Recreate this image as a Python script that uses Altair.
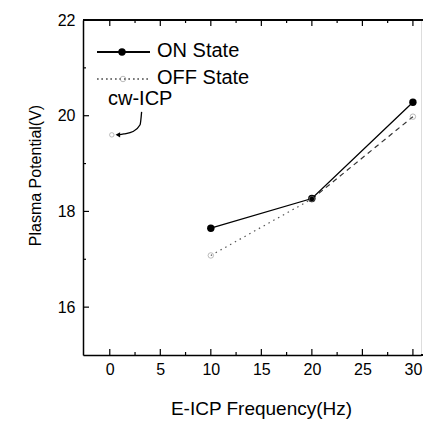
import altair as alt
import pandas as pd

# ---- data ----
FREQ = [10, 20, 30]
ON_STATE = [17.65, 18.27, 20.28]
OFF_STATE = [17.08, 18.26, 19.98]
CW_X = [0.2]
CW_Y = [19.6]
X_TICKS = [0, 5, 10, 15, 20, 25, 30]
X_MINOR = [2.5, 7.5, 12.5, 17.5, 22.5, 27.5]
Y_TICKS = [16, 18, 20, 22]
Y_MINOR = [17, 19, 21]
# annotation arrow (cw-ICP) path in data units
ARROW_X = [3.15, 3.0, 2.3, 1.4, 0.8]
ARROW_Y = [20.08, 19.81, 19.67, 19.62, 19.60]

W, H = 338, 335
FONT = "Liberation Sans"

xs = alt.Scale(domain=[-2.65, 30.8], nice=False, zero=False)
ys = alt.Scale(domain=[15, 22], nice=False, zero=False)

xaxis = alt.Axis(values=X_TICKS, title="E-ICP Frequency(Hz)", tickSize=0, labelPadding=6,
                 labelFontSize=16, titleFontSize=19, grid=False, domainColor="black",
                 domainWidth=1.5, titleX=178, titleY=59, titleBaseline="alphabetic",
                 titleAlign="center", titleFontWeight="normal", labelFont=FONT, titleFont=FONT,
                 labelColor="black", titleColor="black")
yaxis = alt.Axis(values=Y_TICKS, title="Plasma Potential(V)", tickSize=0, labelPadding=8,
                 labelFontSize=16, titleFontSize=16, grid=False, domainColor="black",
                 domainWidth=1.5, titleX=-43, titleY=155, titleAngle=270,
                 titleBaseline="alphabetic", titleAlign="center", titleFontWeight="normal",
                 labelFont=FONT, titleFont=FONT, labelColor="black", titleColor="black")

X = alt.X("x:Q", scale=xs, axis=xaxis)
Y = alt.Y("y:Q", scale=ys, axis=yaxis)

on_df = pd.DataFrame({"x": FREQ, "y": ON_STATE})
off_df = pd.DataFrame({"x": FREQ, "y": OFF_STATE})
seg_df = pd.DataFrame({
    "x": FREQ[0:2] + FREQ[1:3],
    "y": OFF_STATE[0:2] + OFF_STATE[1:3],
    "seg": ["a", "a", "b", "b"],
})
cw_df = pd.DataFrame({"x": CW_X, "y": CW_Y})
arrow_df = pd.DataFrame({"x": ARROW_X, "y": ARROW_Y, "o": list(range(len(ARROW_X)))})

on_line = alt.Chart(on_df).mark_line(color="black", strokeWidth=1.3).encode(x=X, y=Y)
on_pts = alt.Chart(on_df).mark_point(filled=True, color="black", size=55, opacity=1).encode(x=X, y=Y)

off_a = alt.Chart(seg_df[seg_df.seg == "a"]).mark_line(
    color="#555", strokeWidth=1.2, strokeDash=[1.5, 4]).encode(x=X, y=Y)
off_b = alt.Chart(seg_df[seg_df.seg == "b"]).mark_line(
    color="#333", strokeWidth=1.2, strokeDash=[5, 4]).encode(x=X, y=Y)
off_pts = alt.Chart(off_df).mark_point(filled=False, color="#888", size=30,
                                       strokeWidth=0.8).encode(x=X, y=Y)
cw_pt = alt.Chart(cw_df).mark_point(filled=False, color="#888", size=20,
                                    strokeWidth=0.8).encode(x=X, y=Y)

arrow = alt.Chart(arrow_df).mark_line(color="black", strokeWidth=1.3,
                                      interpolate="monotone").encode(x=X, y=Y, order="o:Q")
arrow_head = alt.Chart(arrow_df.tail(1)).mark_point(shape="triangle-left", filled=True,
                                                    color="black", size=28, opacity=1).encode(x=X, y=Y)
cw_text = alt.Chart(cw_df).mark_text(text="cw-ICP", font=FONT, fontSize=20, align="left",
                                     baseline="middle", color="black").encode(
    x=alt.value(25), y=alt.value(79))

# ---- frame & inward ticks ----
top_line = alt.Chart(on_df).mark_rule(color="black", strokeWidth=1.5).encode(
    x=alt.value(0), x2=alt.value(W + 2), y=alt.value(0))

xmaj = pd.DataFrame({"x": X_TICKS})
xmin = pd.DataFrame({"x": X_MINOR})
ymaj = pd.DataFrame({"y": Y_TICKS})
ymin = pd.DataFrame({"y": Y_MINOR})

tick_layers = [
    alt.Chart(xmaj).mark_rule(color="black", strokeWidth=1.2).encode(x=X, y=alt.value(H), y2=alt.value(H - 6)),
    alt.Chart(xmin).mark_rule(color="black", strokeWidth=1.2).encode(x=X, y=alt.value(H), y2=alt.value(H - 3)),
    alt.Chart(xmaj).mark_rule(color="black", strokeWidth=1.2).encode(x=X, y=alt.value(0), y2=alt.value(6)),
    alt.Chart(xmin).mark_rule(color="black", strokeWidth=1.2).encode(x=X, y=alt.value(0), y2=alt.value(3)),
    alt.Chart(ymaj).mark_rule(color="black", strokeWidth=1.2).encode(y=Y, x=alt.value(0), x2=alt.value(6)),
    alt.Chart(ymin).mark_rule(color="black", strokeWidth=1.2).encode(y=Y, x=alt.value(0), x2=alt.value(3)),
]
bottom_ext = alt.Chart(on_df).mark_rule(color="black", strokeWidth=1.5).encode(
    x=alt.value(W), x2=alt.value(W + 2), y=alt.value(H))

# ---- manual legend ----
leg_on_line = alt.Chart(on_df).mark_rule(color="black", strokeWidth=1.3).encode(
    x=alt.value(14), x2=alt.value(67), y=alt.value(32))
leg_on_pt = alt.Chart(on_df.head(1)).mark_point(filled=True, color="black", size=55, opacity=1).encode(
    x=alt.value(39), y=alt.value(32))
leg_on_txt = alt.Chart(on_df.head(1)).mark_text(text="ON State", font=FONT, fontSize=20, align="left",
                                                baseline="middle", color="black").encode(
    x=alt.value(74), y=alt.value(31))
leg_off_line = alt.Chart(on_df).mark_rule(color="#666", strokeWidth=1.2, strokeDash=[1.5, 3]).encode(
    x=alt.value(14), x2=alt.value(67), y=alt.value(59))
leg_off_pt = alt.Chart(on_df.head(1)).mark_point(filled=False, color="#888", size=30, strokeWidth=0.8).encode(
    x=alt.value(40), y=alt.value(59))
leg_off_txt = alt.Chart(on_df.head(1)).mark_text(text="OFF State", font=FONT, fontSize=20, align="left",
                                                 baseline="middle", color="black").encode(
    x=alt.value(74), y=alt.value(58))

chart = alt.layer(
    on_line, off_a, off_b, on_pts, off_pts, cw_pt, arrow, arrow_head, cw_text,
    top_line, bottom_ext, *tick_layers,
    leg_on_line, leg_on_pt, leg_on_txt, leg_off_line, leg_off_pt, leg_off_txt,
).properties(
    width=W, height=H,
    autosize=alt.AutoSizeParams(type="none"),
    padding={"left": 75, "top": 12, "right": 2, "bottom": 66},
).configure_view(stroke=None).configure(background="white")

chart.save("out.html", embed_options={"renderer": "svg", "actions": False})
